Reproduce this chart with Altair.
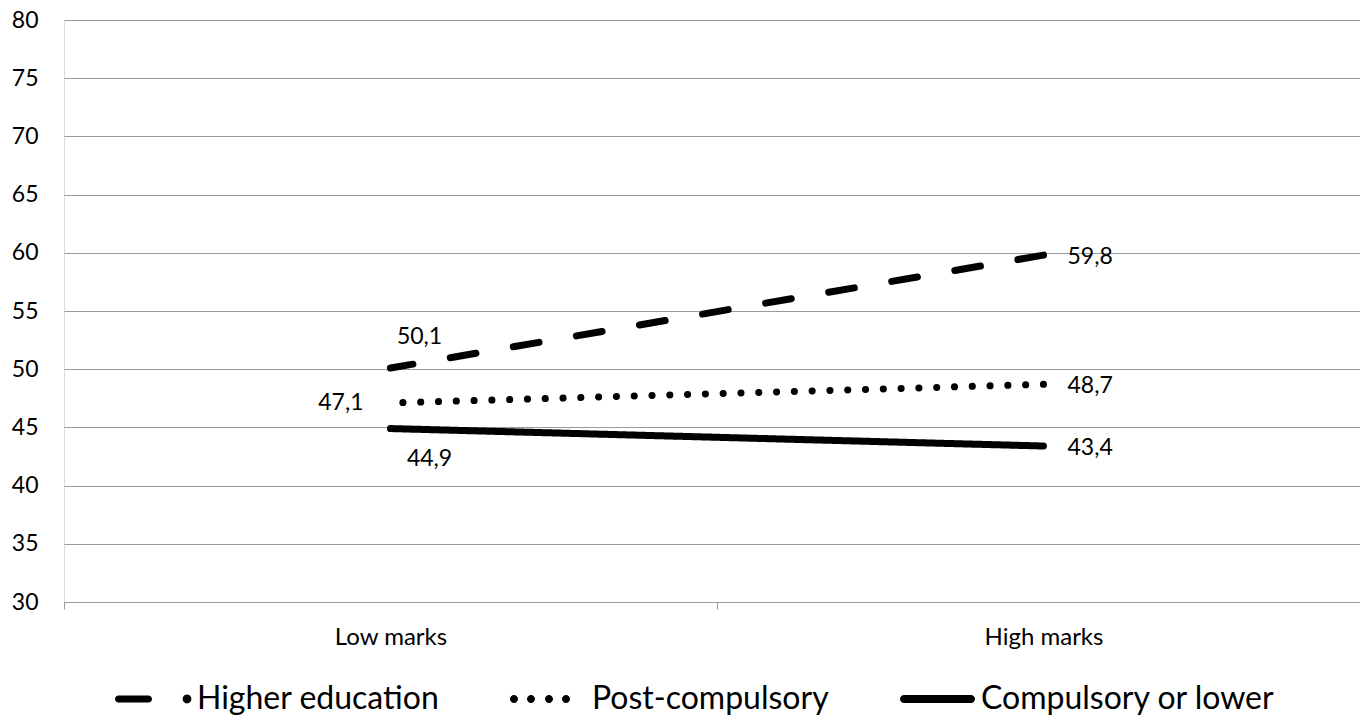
import altair as alt
import pandas as pd

# Category axis, series names and values
marks = ["Low marks", "High marks"]
series = ["Higher education", "Post-compulsory", "Compulsory or lower"]
higher_education = [50.1, 59.8]
post_compulsory = [47.1, 48.7]
compulsory_or_lower = [44.9, 43.4]

rows = []
for name, vals in zip(series, [higher_education, post_compulsory, compulsory_or_lower]):
    for m, v in zip(marks, vals):
        rows.append({"marks": m, "series": name, "value": v})
df = pd.DataFrame(rows)

FONT = "Lato"
GRID = "#9a9a9a"

# Legend glyphs drawn as filled paths in the unit box [-1, 1]
GLYPH_DASHED = (
    "M-0.91,-0.09 L-0.165,-0.09 A0.09,0.09 0 0 1 -0.165,0.09 "
    "L-0.91,0.09 A0.09,0.09 0 0 1 -0.91,-0.09 Z "
    "M0.69,0 A0.11,0.11 0 1 0 0.91,0 A0.11,0.11 0 1 0 0.69,0 Z"
)


def _dot(cx, r=0.1):
    return f"M{cx - r:.3f},0 A{r},{r} 0 1 0 {cx + r:.3f},0 A{r},{r} 0 1 0 {cx - r:.3f},0 Z"


GLYPH_DOTTED = " ".join(_dot(c) for c in (-0.9, -0.475, -0.025, 0.4))
GLYPH_SOLID = (
    "M-0.875,-0.1 L0.8,-0.1 A0.1,0.1 0 0 1 0.8,0.1 "
    "L-0.875,0.1 A0.1,0.1 0 0 1 -0.875,-0.1 Z"
)

x_enc = alt.X(
    "marks:N",
    sort=marks,
    bandPosition=0.5,
    scale=alt.Scale(type="band", domain=marks, paddingInner=0, paddingOuter=0, range=[0, 1306]),
    axis=alt.Axis(
        title=None,
        labelAngle=0,
        labelFont=FONT,
        labelFontSize=24,
        labelColor="black",
        labelPadding=16,
        tickBand="extent",
        tickSize=7,
        tickColor=GRID,
        domainColor=GRID,
        grid=False,
    ),
)
y_enc = alt.Y(
    "value:Q",
    scale=alt.Scale(domain=[30, 80], nice=False, zero=False),
    axis=alt.Axis(
        title=None,
        values=list(range(30, 85, 5)),
        domain=False,
        ticks=False,
        grid=True,
        gridColor=GRID,
        gridWidth=1,
        labelFont=FONT,
        labelFontSize=23,
        labelColor="black",
        labelPadding=26,
    ),
)

base = alt.Chart(df).encode(x=x_enc, y=y_enc)

lines = base.mark_line(color="black", strokeWidth=7, strokeCap="round").encode(
    strokeDash=alt.StrokeDash(
        "series:N",
        sort=series,
        scale=alt.Scale(domain=series, range=[[26, 38], [0.1, 17.7], [1, 0]]),
        legend=None,
    ),
    order=alt.Order("marks:N"),
)

# Tiny points hidden under the line ends; they carry the legend glyphs
keys = base.mark_point(filled=True, color="black", size=1).encode(
    shape=alt.Shape(
        "series:N",
        sort=series,
        scale=alt.Scale(domain=series, range=[GLYPH_DASHED, GLYPH_DOTTED, GLYPH_SOLID]),
        legend=alt.Legend(
            title=None,
            orient="none",
            legendX=51,
            legendY=639,
            direction="horizontal",
            symbolSize=6400,
            symbolFillColor="black",
            symbolStrokeWidth=0,
            symbolOpacity=1,
            labelFont=FONT,
            labelFontSize=32,
            labelColor="black",
            labelOffset=2,
            labelLimit=0,
            columnPadding=70,
        ),
    ),
)


def value_labels(series_name, mark_name, **props):
    return (
        base.transform_filter(
            (alt.datum.series == series_name) & (alt.datum.marks == mark_name)
        )
        .transform_calculate(label="replace(format(datum.value, '.1f'), '.', ',')")
        .mark_text(font=FONT, fontSize=23, color="black", baseline="middle", **props)
        .encode(text=alt.Text("label:N"))
    )


labels = [
    value_labels("Higher education", "Low marks", align="center", dx=29, dy=-31),
    value_labels("Post-compulsory", "Low marks", align="right", dx=-27, dy=0),
    value_labels("Compulsory or lower", "Low marks", align="center", dx=39, dy=30),
    value_labels("Higher education", "High marks", align="left", dx=24, dy=2),
    value_labels("Post-compulsory", "High marks", align="left", dx=24, dy=2),
    value_labels("Compulsory or lower", "High marks", align="left", dx=24, dy=2),
]

chart = (
    alt.layer(keys, lines, *labels)
    .properties(
        width=1296,
        height=582,
        autosize=alt.AutoSizeParams(type="none"),
        padding={"left": 64, "top": 20, "right": 0, "bottom": 116},
    )
    .configure_view(stroke=None)
    .configure(background="white")
)

chart.save("out.html", embed_options={"renderer": "svg", "actions": False})
